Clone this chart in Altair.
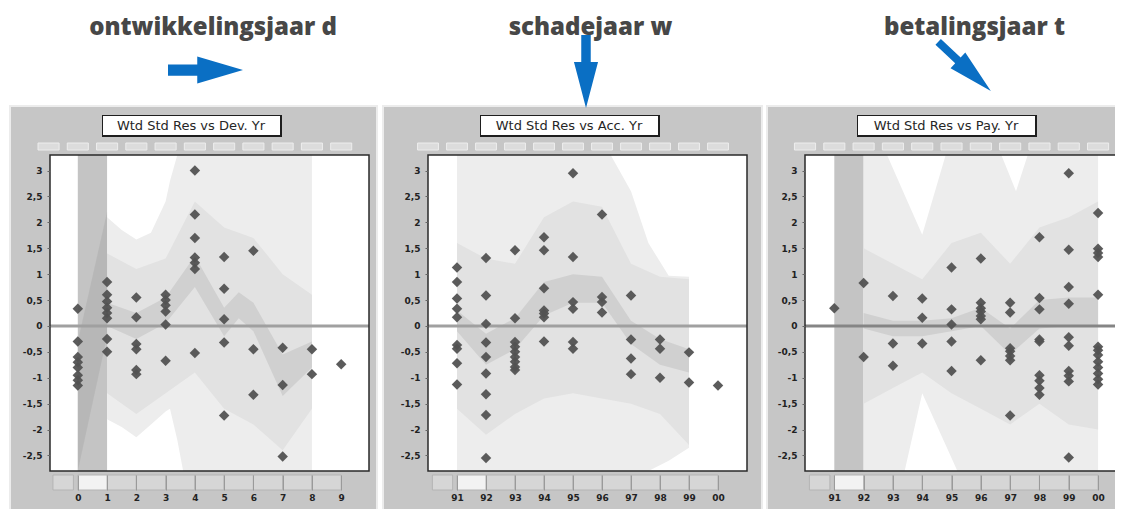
import altair as alt
import pandas as pd

# ------------------------------------------------------------------ data
y_ticks = [3, 2.5, 2, 1.5, 1, 0.5, 0, -0.5, -1, -1.5, -2, -2.5]
Y_DOM = [-2.8, 3.3]

# panel 1 : development year d
dev_ticks = [0, 1, 2, 3, 4, 5, 6, 7, 8, 9]
dev_labels = ["0", "1", "2", "3", "4", "5", "6", "7", "8", "9"]
dev_res = [
    [0.33, -0.3, -0.6, -0.7, -0.8, -0.95, -1.05, -1.15],
    [0.85, 0.6, 0.47, 0.35, 0.25, 0.15, -0.25, -0.5],
    [0.55, 0.17, -0.35, -0.45, -0.85, -0.93],
    [0.6, 0.5, 0.4, 0.28, 0.03, -0.67],
    [3.0, 2.15, 1.7, 1.32, 1.22, 1.1, -0.52],
    [1.33, 0.72, 0.13, -0.32, -1.73],
    [1.45, -0.45, -1.33],
    [-0.42, -1.14, -2.52],
    [-0.45, -0.93],
    [-0.74],
]
dev_outer_x = [1, 1.5, 2, 2.5, 3, 3.15, 3.4, 3.6, 8]
dev_outer_hi = [2.1, 1.85, 1.67, 1.8, 2.4, 2.8, 3.3, 3.3, 3.3]
dev_outer_lo = [-1.8, -1.95, -2.15, -1.9, -1.65, -1.6, -2.2, -2.8, -2.8]
dev_mid_x = [1, 2, 3, 4, 5, 6, 7, 8]
dev_mid_hi = [1.4, 1.1, 1.3, 2.4, 1.9, 1.7, 1.0, 0.6]
dev_mid_lo = [-1.3, -1.7, -1.3, -0.9, -1.6, -1.9, -2.4, -1.6]
dev_inner_x = [1, 2, 3, 4, 5, 5.5, 6, 7, 8]
dev_inner_hi = [0.45, 0.25, 0.55, 1.35, 0.35, 0.65, 0.45, -0.55, -0.3]
dev_inner_lo = [0.0, -0.25, 0.05, 0.75, -0.2, 0.15, -0.1, -1.35, -0.8]
dev_diag_x = [0, 1]
dev_diag_hi = [-0.3, 2.2]
dev_diag_lo = [-2.8, -0.2]

# panel 2 : accident year w
acc_ticks = [91, 92, 93, 94, 95, 96, 97, 98, 99, 100]
acc_labels = ["91", "92", "93", "94", "95", "96", "97", "98", "99", "00"]
acc_res = [
    [1.13, 0.85, 0.53, 0.33, 0.17, -0.37, -0.44, -0.72, -1.13],
    [1.31, 0.59, 0.04, -0.32, -0.6, -0.92, -1.32, -1.72, -2.55],
    [1.46, 0.15, -0.31, -0.4, -0.5, -0.6, -0.69, -0.79, -0.85],
    [1.71, 1.46, 0.73, 0.3, 0.24, 0.17, -0.3],
    [2.95, 1.33, 0.46, 0.33, -0.31, -0.44],
    [2.15, 0.56, 0.46, 0.26],
    [0.59, -0.26, -0.63, -0.93],
    [-0.26, -0.44, -1.0],
    [-0.51, -1.09],
    [-1.15],
]
acc_outer_x = [91, 96.3, 97, 97.6, 98.3, 99]
acc_outer_hi = [3.3, 3.3, 2.6, 1.6, 0.97, 0.95]
acc_outer_lo = [-2.8, -2.8, -2.8, -2.8, -2.6, -2.35]
acc_mid_x = [91, 92, 93, 94, 95, 96, 97, 98, 99]
acc_mid_hi = [1.6, 1.3, 1.2, 2.1, 2.4, 2.3, 1.2, 0.95, 0.9]
acc_mid_lo = [-1.6, -2.1, -1.7, -1.4, -1.3, -1.4, -1.5, -1.7, -2.3]
acc_inner_x = [91, 92, 93, 94, 95, 96, 97, 98, 99]
acc_inner_hi = [0.3, -0.15, 0.15, 0.85, 1.0, 0.95, 0.1, -0.25, -0.45]
acc_inner_lo = [-0.1, -0.75, -0.45, 0.2, 0.45, 0.45, -0.35, -0.75, -0.9]

# panel 3 : payment year t
pay_ticks = [91, 92, 93, 94, 95, 96, 97, 98, 99, 100]
pay_labels = ["91", "92", "93", "94", "95", "96", "97", "98", "99", "00"]
pay_res = [
    [0.34],
    [0.83, -0.6],
    [0.58, -0.34, -0.77],
    [0.53, 0.16, -0.34],
    [1.13, 0.32, 0.03, -0.3, -0.87],
    [1.3, 0.45, 0.34, 0.28, 0.19, 0.13, -0.66],
    [0.45, 0.26, -0.43, -0.49, -0.58, -0.66, -1.73],
    [1.71, 0.54, 0.32, -0.26, -0.3, -0.95, -1.06, -1.2, -1.33],
    [2.95, 1.47, 0.75, 0.43, -0.22, -0.38, -0.87, -0.96, -1.07, -2.54],
    [2.18, 1.49, 1.41, 1.33, 0.6, -0.4, -0.47, -0.56, -0.69, -0.8, -0.92, -1.03, -1.13],
]
pay_outer_x = [92, 92.8, 93.4, 94, 94.8, 95.2, 96.7, 97.2, 97.6, 100]
pay_outer_hi = [3.3, 3.3, 2.53, 1.76, 3.3, 3.3, 3.3, 2.6, 3.3, 3.3]
pay_outer_lo = [-2.8, -2.8, -2.8, -1.3, -2.3, -2.8, -2.8, -2.8, -2.8, -2.8]
pay_mid_x = [92, 93, 94, 95, 96, 97, 98, 99, 100]
pay_mid_hi = [1.5, 1.2, 0.9, 1.6, 1.8, 1.2, 1.9, 2.1, 2.4]
pay_mid_lo = [-1.5, -1.2, -0.9, -1.3, -1.6, -1.9, -1.5, -1.9, -2.0]
pay_inner_x = [92, 93, 94, 95, 96, 97, 98, 99, 100]
pay_inner_hi = [0.25, 0.1, 0.1, 0.15, 0.35, -0.05, 0.5, 0.55, 0.55]
pay_inner_lo = [-0.05, -0.2, -0.2, -0.1, 0.0, -0.55, -0.05, 0.0, 0.0]

headers = ["ontwikkelingsjaar d", "schadejaar w", "betalingsjaar t"]
box_titles = ["Wtd Std Res vs Dev. Yr", "Wtd Std Res vs Acc. Yr", "Wtd Std Res vs Pay. Yr"]

# ------------------------------------------------------------------ layout / style
CW, CH = 1107, 501            # whole canvas (page origin at 8,8)
PT, PB = 147, 463             # plot area top / bottom (canvas px)
BLUE = "#0a6fc4"
ARROW_RIGHT = "M -1 -0.15 L -0.22 -0.15 L -0.22 -0.36 L 1 0 L -0.22 0.36 L -0.22 0.15 L -1 0.15 Z"
ARROW_DOWN = "M -0.13 -1 L 0.13 -1 L 0.13 -0.26 L 0.33 -0.26 L 0 1 L -0.33 -0.26 L -0.13 -0.26 Z"
ARROW_SLIM = "M -1 -0.11 L -0.25 -0.11 L -0.25 -0.3 L 1 0 L -0.25 0.3 L -0.25 0.11 L -1 0.11 Z"

one = pd.DataFrame({"k": [0]})


def vrect(x1, x2, y1, y2, **kw):
    return alt.Chart(one).mark_rect(**kw).encode(
        x=alt.value(x1), x2=alt.value(x2), y=alt.value(y1), y2=alt.value(y2)
    )


def band_df(xs, lo, hi):
    return pd.DataFrame({"x": xs, "lo": lo, "hi": hi})


def panel(pl, pr, dom, ticks, labels, res, bands, stripe, diag, header, hx, arrow,
          title, fl, fr, zero_color):
    tick_js = "[" + ",".join(str(t) for t in ticks) + "]"
    lab_js = "[" + ",".join("'" + s + "'" for s in labels) + "]"
    xaxis = alt.Axis(orient="bottom", offset=-(CH - PB - 4),
                     values=ticks, labelExpr=f"{lab_js}[indexof({tick_js}, datum.value)]",
                     domain=False, grid=False, ticks=True, tickSize=15, tickColor="#9a9a9a",
                     labelPadding=3, labelFont="DejaVu Sans", labelFontWeight="bold",
                     labelFontSize=9, labelColor="#222", labelFlush=False, labelOverlap=False,
                     zindex=1, title=None)
    yaxis = alt.Axis(orient="left", offset=-pl,
                     values=y_ticks, labelExpr="replace(toString(datum.value), '.', ',')",
                     domain=False, grid=False, ticks=True, tickSize=3, tickColor="#666",
                     labelPadding=5, labelFont="DejaVu Sans", labelFontWeight="bold",
                     labelFontSize=9, labelColor="#222", labelFlush=False, labelOverlap=False,
                     zindex=1, title=None)
    xs = alt.Scale(domain=dom, range=[pl, pr], nice=False, zero=False)
    ys = alt.Scale(domain=Y_DOM, range=[PB, PT], nice=False, zero=False)

    def X(f):
        return alt.X(f, type="quantitative", scale=xs, axis=xaxis, title=None)

    def Y(f):
        return alt.Y(f, type="quantitative", scale=ys, axis=yaxis, title=None)

    layers = []
    # grey window frame
    layers.append(vrect(fl, fr, 98, CH + 2, fill="#c6c6c6", stroke="#ececec", strokeWidth=2))
    # header + arrow
    layers.append(alt.Chart(one).mark_text(text=header, font="Open Sans", fontWeight=800,
                                           fontSize=24, color="#474747", align="center",
                                           baseline="alphabetic").encode(
        x=alt.value(hx), y=alt.value(27)))
    shape, ax, ay, alen, ang = arrow
    akw = dict(shape=shape, filled=True, size=alen * alen, color=BLUE, opacity=1, strokeWidth=0)
    if ang:
        akw["angle"] = ang
    layers.append(alt.Chart(one).mark_point(**akw).encode(x=alt.value(ax), y=alt.value(ay)))
    # title box
    layers.append(vrect(pl + 52, pl + 232, 107, 129, fill="#1e1e1e"))
    layers.append(vrect(pl + 53, pl + 230, 108, 127, fill="white"))
    layers.append(alt.Chart(one).mark_text(text=title, font="DejaVu Sans", fontSize=13,
                                           color="#262626", align="center",
                                           baseline="middle").encode(
        x=alt.value(pl + 141), y=alt.value(118)))
    # top ruler boxes
    tops = [ticks[0] - 1] + ticks
    top_df = pd.DataFrame({"x": [t - 0.36 for t in tops], "x2": [t + 0.36 for t in tops]})
    layers.append(alt.Chart(top_df).mark_rect(fill="#dcdcdc", stroke="#ededed",
                                              strokeWidth=1).encode(
        x=X("x"), x2="x2", y=alt.value(PT - 12), y2=alt.value(PT - 5)))
    # bottom scroll-strip boxes
    bot_df = pd.DataFrame({"x": [ticks[0] - 0.85] + ticks[1:-1],
                           "x2": [ticks[0] - 0.15] + ticks[2:]})
    layers.append(alt.Chart(bot_df).mark_rect(fill="#d6d6d6", stroke="#b4b4b4",
                                              strokeWidth=1).encode(
        x=X("x"), x2="x2", y=alt.value(PB + 4), y2=alt.value(PB + 19)))
    sel_df = pd.DataFrame({"x": [ticks[0]], "x2": [ticks[1]]})
    layers.append(alt.Chart(sel_df).mark_rect(fill="#f2f2f2", stroke="#b4b4b4",
                                              strokeWidth=1).encode(
        x=X("x"), x2="x2", y=alt.value(PB + 4), y2=alt.value(PB + 19)))
    # white plot area
    layers.append(vrect(pl, pr, PT, PB, fill="white"))
    # shaded bands
    if stripe is not None:
        s_df = pd.DataFrame({"x": [stripe[0]], "x2": [stripe[1]]})
        layers.append(alt.Chart(s_df).mark_rect(fill="#c4c4c4").encode(
            x=X("x"), x2="x2", y=alt.value(PT), y2=alt.value(PB)))
    for df, col in zip(bands, ["#ededed", "#e2e2e2", "#d0d0d0"]):
        layers.append(alt.Chart(df).mark_area(color=col, opacity=1).encode(
            x=X("x"), y=Y("lo"), y2="hi"))
    if diag is not None:
        layers.append(alt.Chart(diag).mark_area(color="#a9a9a9", opacity=0.45).encode(
            x=X("x"), y=Y("lo"), y2="hi"))
    # zero line
    layers.append(alt.Chart(pd.DataFrame({"y": [0]})).mark_rule(
        color=zero_color, strokeWidth=3).encode(y=Y("y"), x=alt.value(pl), x2=alt.value(pr)))
    # residual points
    px, py = [], []
    for t, vals in zip(ticks, res):
        for v in vals:
            px.append(t)
            py.append(v)
    pts = pd.DataFrame({"x": px, "y": py})
    layers.append(alt.Chart(pts).mark_point(shape="diamond", filled=True, size=110,
                                            color="#525252", opacity=0.95).encode(
        x=X("x"), y=Y("y")))
    # plot border
    layers.append(vrect(pl, pr, PT, PB, fillOpacity=0, stroke="#2a2a2a", strokeWidth=1.5))
    return alt.layer(*layers)


p1 = panel(42, 361, [-0.95, 9.95], dev_ticks, dev_labels, dev_res,
           [band_df(dev_outer_x, dev_outer_lo, dev_outer_hi),
            band_df(dev_mid_x, dev_mid_lo, dev_mid_hi),
            band_df(dev_inner_x, dev_inner_lo, dev_inner_hi)],
           (0, 1), band_df(dev_diag_x, dev_diag_lo, dev_diag_hi),
           headers[0], 205, (ARROW_RIGHT, 197.5, 62, 75, 0), box_titles[0], 2, 369, "#a0a0a0")
p2 = panel(420, 739, [90, 101], acc_ticks, acc_labels, acc_res,
           [band_df(acc_outer_x, acc_outer_lo, acc_outer_hi),
            band_df(acc_mid_x, acc_mid_lo, acc_mid_hi),
            band_df(acc_inner_x, acc_inner_lo, acc_inner_hi)],
           None, None,
           headers[1], 582.5, (ARROW_DOWN, 578, 63.5, 73, 0), box_titles[1], 375, 754, "#a0a0a0")
p3 = panel(797, 1110, [90, 100.68], pay_ticks, pay_labels, pay_res,
           [band_df(pay_outer_x, pay_outer_lo, pay_outer_hi),
            band_df(pay_mid_x, pay_mid_lo, pay_mid_hi),
            band_df(pay_inner_x, pay_inner_lo, pay_inner_hi)],
           (91, 92), None,
           headers[2], 966.5, (ARROW_SLIM, 956.5, 58.5, 72, 43), box_titles[2], 759, 1112, "#858585")

chart = alt.layer(p1, p2, p3).resolve_scale(
    x="independent", y="independent"
).resolve_axis(
    x="independent", y="independent"
).properties(
    width=CW, height=CH, padding=0,
    autosize=alt.AutoSizeParams(type="none"),
    background="white",
).configure_view(strokeWidth=0)

chart.save("out.html", embed_options={"renderer": "svg", "actions": False})
